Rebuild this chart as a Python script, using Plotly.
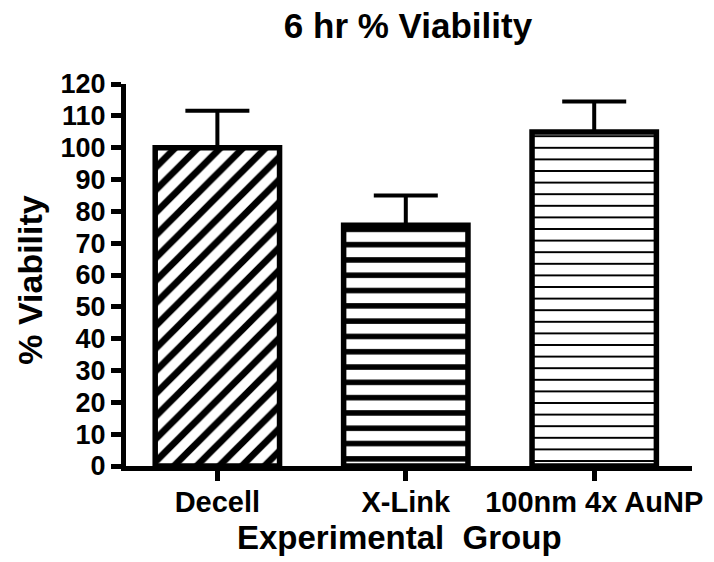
import plotly.graph_objects as go

categories = ["Decell", "X-Link", "100nm 4x AuNP"]
viability = [100.0, 75.6, 104.9]
sem_upper = [11.6, 9.4, 9.6]
y_ticks = list(range(0, 121, 10))

FONT = "Liberation Sans, Arial, sans-serif"

fig = go.Figure()
fig.add_trace(go.Bar(
    x=categories,
    y=viability,
    width=0.66,
    marker=dict(
        color="white",
        line=dict(color="black", width=5.5),
        pattern=dict(
            shape=["/", "-", "-"],
            size=[16, 15.3, 11.6],
            solidity=[0.42, 0.36, 0.17],
            fgcolor="black",
            bgcolor="white",
            fillmode="replace",
        ),
    ),
    error_y=dict(
        type="data",
        symmetric=False,
        array=sem_upper,
        arrayminus=[0, 0, 0],
        color="black",
        thickness=4,
        width=32,
    ),
    showlegend=False,
))

fig.update_layout(
    width=714,
    height=562,
    margin=dict(l=126, r=12, t=84, b=96, pad=0),
    paper_bgcolor="white",
    plot_bgcolor="white",
    font=dict(family=FONT, color="black"),
    title=dict(
        text="6 hr % Viability",
        font=dict(family=FONT, size=35, weight="bold", color="black"),
        x=408 / 714,
        xref="container",
        xanchor="center",
        y=1 - 26 / 562,
        yref="container",
        yanchor="middle",
    ),
)

fig.update_xaxes(
    range=[-0.485, 2.519],
    showline=True,
    linecolor="black",
    linewidth=5,
    ticks="outside",
    ticklen=10,
    tickwidth=5,
    tickcolor="black",
    ticklabelstandoff=-4,
    tickfont=dict(family=FONT, size=29, weight="bold", color="black"),
    showgrid=False,
    zeroline=False,
)
fig.update_yaxes(
    range=[0, 120],
    tickvals=y_ticks,
    ticktext=[str(v) for v in y_ticks],
    showline=True,
    linecolor="black",
    linewidth=5,
    ticks="outside",
    ticklen=10,
    tickwidth=5,
    tickcolor="black",
    tickfont=dict(family=FONT, size=27, weight="bold", color="black"),
    showgrid=False,
    zeroline=False,
)

fig.add_annotation(
    text="% Viability",
    xref="paper", yref="paper",
    x=-(126 - 28) / (714 - 126 - 12), y=(466 - 280) / (466 - 84),
    xanchor="center", yanchor="middle",
    textangle=-90, showarrow=False,
    font=dict(family=FONT, size=34, weight="bold", color="black"),
)
fig.add_annotation(
    text="Experimental&nbsp; Group",
    xref="paper", yref="paper",
    x=(404 - 126) / (714 - 126 - 12), y=-(537 - 466) / (466 - 84),
    xanchor="center", yanchor="middle",
    showarrow=False,
    font=dict(family=FONT, size=33, weight="bold", color="black"),
)

fig.write_html("out.html")
